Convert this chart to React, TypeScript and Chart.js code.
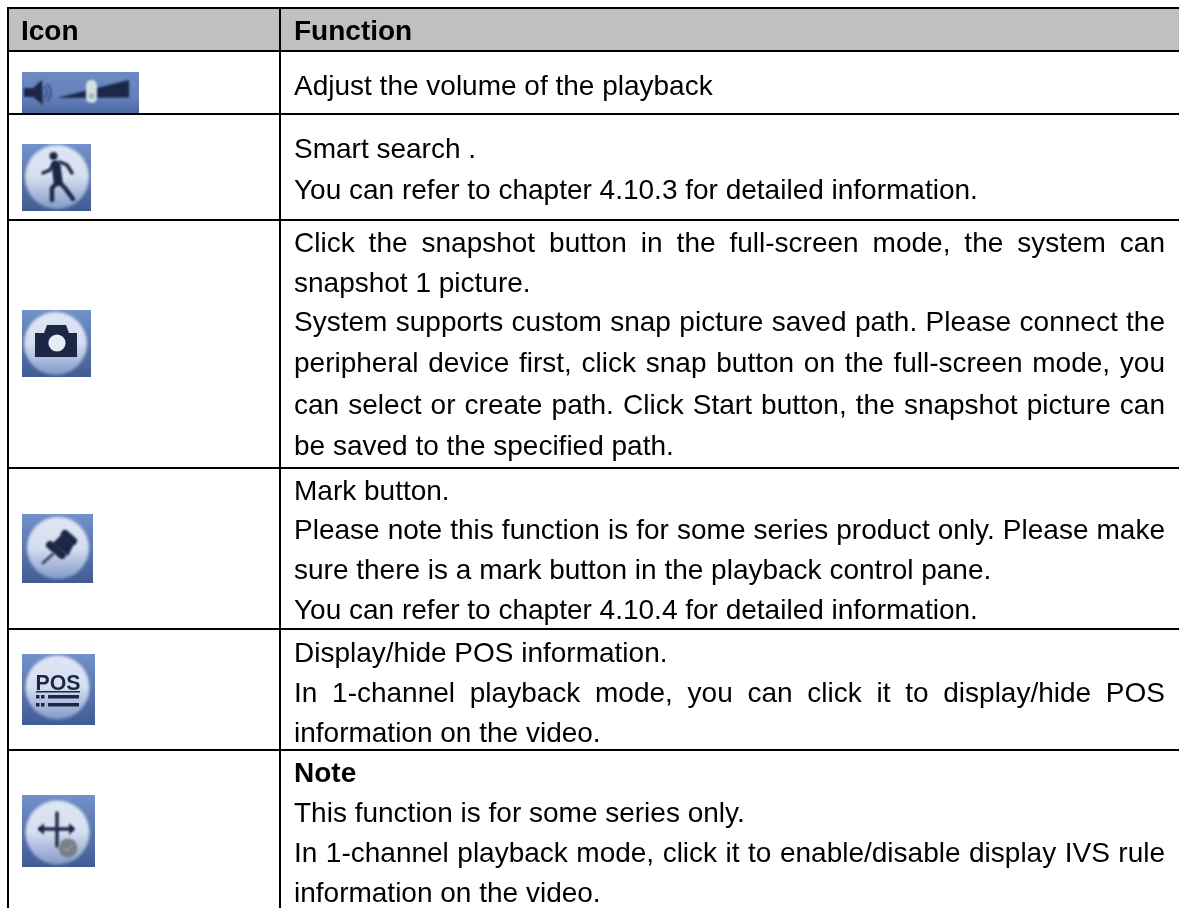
import React, { useEffect, useRef } from "react";
import { Chart, registerables } from "chart.js";

Chart.register(...registerables);

const headers = ["Icon", "Function"];
const iconNames = ["volume", "walker", "camera", "pin", "pos", "ivs"];
const cellLines = [
  "Adjust the volume of the playback",
  "Smart search .",
  "You can refer to chapter 4.10.3 for detailed information.",
  "Click the snapshot button in the full-screen mode, the system can",
  "snapshot 1 picture.",
  "System supports custom snap picture saved path. Please connect the",
  "peripheral device first, click snap button on the full-screen mode, you",
  "can select or create path. Click Start button, the snapshot picture can",
  "be saved to the specified path.",
  "Mark button.",
  "Please note this function is for some series product only. Please make",
  "sure there is a mark button in the playback control pane.",
  "You can refer to chapter 4.10.4 for detailed information.",
  "Display/hide POS information.",
  "In 1-channel playback mode, you can click it to display/hide POS",
  "information on the video.",
  "Note",
  "This function is for some series only.",
  "In 1-channel playback mode, click it to enable/disable display IVS rule",
  "information on the video.",
];
const justifiedLines = [3, 5, 6, 7, 10, 14, 18];
const boldLines = [16];

// layout, in page pixels (the scales run 1:1 with the canvas)
const W = 1179;
const H = 908;
const columnRules = [8, 280];
const rowRules = [8, 51, 114, 220, 468, 629, 750];
const lineBaselines = [95, 158, 199, 252, 292, 331, 372, 414, 455, 500, 539, 579, 619, 662, 702, 742, 782, 822, 862, 902];
const textLeft = 294;
const textRight = 1165;
const font = '"Liberation Sans", Arial, sans-serif';
const ink = "#1b2745";

function base(ctx: CanvasRenderingContext2D, x: number, y: number, w: number, h: number, cx: number, cy: number, r: number) {
  const g = ctx.createLinearGradient(0, y, 0, y + h);
  g.addColorStop(0, "#7391ca");
  g.addColorStop(1, "#415c92");
  ctx.fillStyle = g;
  ctx.fillRect(x, y, w, h);
  const c = ctx.createLinearGradient(0, cy - r, 0, cy + r);
  c.addColorStop(0, "#dfe6f4");
  c.addColorStop(0.5, "#d5def0");
  c.addColorStop(1, "#8299c8");
  ctx.save();
  ctx.beginPath();
  ctx.rect(x, y, w, h);
  ctx.clip();
  ctx.filter = "blur(1.4px)";
  ctx.fillStyle = c;
  ctx.beginPath();
  ctx.arc(cx, cy, r, 0, Math.PI * 2);
  ctx.fill();
  ctx.restore();
}

function poly(ctx: CanvasRenderingContext2D, pts: number[][]) {
  ctx.beginPath();
  pts.forEach(([a, b], i) => (i ? ctx.lineTo(a, b) : ctx.moveTo(a, b)));
  ctx.closePath();
  ctx.fill();
}

function stroke(ctx: CanvasRenderingContext2D, width: number, pts: number[][]) {
  ctx.lineWidth = width;
  ctx.lineJoin = "round";
  ctx.lineCap = "round";
  ctx.beginPath();
  pts.forEach(([a, b], i) => (i ? ctx.lineTo(a, b) : ctx.moveTo(a, b)));
  ctx.stroke();
}

const painters: Record<string, (ctx: CanvasRenderingContext2D) => void> = {
  volume(ctx) {
    const g = ctx.createLinearGradient(0, 72, 0, 113);
    g.addColorStop(0, "#6e8ac4");
    g.addColorStop(0.65, "#6380bb");
    g.addColorStop(1, "#4c68a2");
    ctx.fillStyle = g;
    ctx.fillRect(22, 72, 117, 41);
    ctx.save();
    ctx.filter = "blur(1px)";
    ctx.fillStyle = "#1b2745";
    poly(ctx, [[24, 88], [33, 88], [42, 80], [43, 105], [33, 97], [24, 97]]);
    ctx.strokeStyle = "#34466f";
    ctx.lineWidth = 1.6;
    ctx.beginPath();
    ctx.arc(40, 92.5, 7, -1, 1);
    ctx.stroke();
    ctx.beginPath();
    ctx.arc(40, 92.5, 11, -0.9, 0.9);
    ctx.stroke();
    ctx.fillStyle = "#1b2745";
    poly(ctx, [[57, 98], [129, 80], [129, 97.5]]);
    ctx.fillStyle = "#d3dfe2";
    ctx.beginPath();
    ctx.roundRect(86, 80, 11, 23, 5);
    ctx.fill();
    ctx.fillStyle = "#a3b8bc";
    ctx.beginPath();
    ctx.arc(91.5, 96, 3, 0, Math.PI * 2);
    ctx.fill();
    ctx.restore();
  },
  walker(ctx) {
    base(ctx, 22, 144, 69, 67, 57, 177, 32);
    ctx.save();
    ctx.filter = "blur(0.8px)";
    ctx.fillStyle = ink;
    ctx.strokeStyle = ink;
    ctx.beginPath();
    ctx.arc(53.5, 156, 4, 0, Math.PI * 2);
    ctx.fill();
    stroke(ctx, 9, [[56, 165], [58, 181]]);
    stroke(ctx, 3.4, [[54, 163], [50, 170], [43, 173]]);
    stroke(ctx, 3.4, [[60, 162], [67, 165], [72, 173]]);
    stroke(ctx, 4.4, [[57, 183], [52, 188], [52, 200]]);
    stroke(ctx, 4.4, [[60, 183], [65, 188], [73, 199]]);
    ctx.restore();
  },
  camera(ctx) {
    base(ctx, 22, 310, 69, 67, 55.5, 343.5, 31.5);
    ctx.save();
    ctx.filter = "blur(0.5px)";
    ctx.fillStyle = ink;
    poly(ctx, [[35, 333], [44, 333], [47, 325], [66, 325], [69, 333], [77, 333], [77, 357], [35, 357]]);
    ctx.fillStyle = "#e6edf8";
    ctx.beginPath();
    ctx.arc(57, 343, 8.6, 0, Math.PI * 2);
    ctx.fill();
    ctx.restore();
  },
  pin(ctx) {
    base(ctx, 22, 514, 71, 69, 58, 548, 31);
    ctx.save();
    ctx.filter = "blur(1px)";
    ctx.fillStyle = ink;
    ctx.strokeStyle = ink;
    stroke(ctx, 8, [[65, 534], [73, 541]]);
    poly(ctx, [[62, 534], [74, 544], [68, 556], [52, 544]]);
    stroke(ctx, 8, [[50, 545], [62, 555]]);
    ctx.strokeStyle = "#3b4560";
    stroke(ctx, 3, [[43, 563], [53, 554]]);
    ctx.restore();
  },
  pos(ctx) {
    base(ctx, 22, 654, 73, 71, 57.5, 687.5, 32);
    ctx.save();
    ctx.filter = "blur(0.5px)";
    ctx.fillStyle = ink;
    ctx.font = `bold 22px ${font}`;
    ctx.textBaseline = "alphabetic";
    ctx.fillText("POS", 35.5, 690, 45);
    ctx.fillRect(36, 691, 44, 1.5);
    [695, 703].forEach((y) => {
      ctx.fillRect(36, y, 3.5, 3.5);
      ctx.fillRect(41, y, 3.5, 3.5);
      ctx.fillRect(48, y, 31, 3.5);
    });
    ctx.restore();
  },
  ivs(ctx) {
    base(ctx, 22, 795, 73, 72, 57.5, 832.5, 32);
    ctx.save();
    ctx.filter = "blur(0.8px)";
    ctx.fillStyle = ink;
    ctx.strokeStyle = ink;
    stroke(ctx, 3.4, [[57, 813], [57, 846]]);
    stroke(ctx, 3.4, [[40, 829], [72, 829]]);
    poly(ctx, [[38, 829], [44, 823], [44, 835]]);
    poly(ctx, [[75, 829], [69, 823], [69, 835]]);
    ctx.fillStyle = "#7a7f88";
    ctx.beginPath();
    ctx.arc(68, 848, 9.5, 0, Math.PI * 2);
    ctx.fill();
    ctx.strokeStyle = "#969aa2";
    stroke(ctx, 1.4, [[64, 848], [67, 851], [72, 845]]);
    ctx.restore();
  },
};

const tablePlugin = {
  id: "tablePlugin",
  beforeDraw(chart: any) {
    const ctx: CanvasRenderingContext2D = chart.ctx;
    const { x, y } = chart.scales;
    ctx.save();
    ctx.fillStyle = "#ffffff";
    ctx.fillRect(0, 0, W, H);
    ctx.fillStyle = "#c0c0c0";
    const top = y.getPixelForValue(rowRules[0]);
    ctx.fillRect(x.getPixelForValue(columnRules[0]), top, W, y.getPixelForValue(rowRules[1]) - top);
    ctx.restore();
  },
  afterDraw(chart: any) {
    const ctx: CanvasRenderingContext2D = chart.ctx;
    const { x, y } = chart.scales;
    ctx.save();
    iconNames.forEach((name) => painters[name](ctx));
    ctx.fillStyle = "#000000";
    ctx.textBaseline = "alphabetic";
    ctx.textAlign = "left";
    ctx.font = `bold 28px ${font}`;
    ctx.fillText(headers[0], x.getPixelForValue(21), y.getPixelForValue(40));
    ctx.fillText(headers[1], x.getPixelForValue(textLeft), y.getPixelForValue(40));
    cellLines.forEach((line, i) => {
      ctx.font = `${boldLines.includes(i) ? "bold " : ""}28px ${font}`;
      const py = y.getPixelForValue(lineBaselines[i]);
      const left = x.getPixelForValue(textLeft);
      if (!justifiedLines.includes(i)) {
        ctx.fillText(line, left, py);
        return;
      }
      const words = line.split(" ");
      const total = words.reduce((s, w) => s + ctx.measureText(w).width, 0);
      const gap = (x.getPixelForValue(textRight) - left - total) / (words.length - 1);
      let cursor = left;
      words.forEach((w) => {
        ctx.fillText(w, cursor, py);
        cursor += ctx.measureText(w).width + gap;
      });
    });
    ctx.restore();
  },
};

export default function App() {
  const ref = useRef<HTMLCanvasElement>(null);
  useEffect(() => {
    document.body.style.margin = "0";
    const setTicks = (values: number[]) => (scale: any) => {
      scale.ticks = values.map((value) => ({ value }));
    };
    const rule = { color: "#000000", lineWidth: 2, drawTicks: false };
    const chart = new Chart(ref.current as HTMLCanvasElement, {
      type: "scatter",
      data: { datasets: [] },
      plugins: [tablePlugin],
      options: {
        animation: false,
        responsive: false,
        events: [],
        layout: { padding: { left: 7, top: 7, right: 0, bottom: 0 } },
        plugins: { legend: { display: false }, title: { display: false }, tooltip: { enabled: false } },
        scales: {
          x: {
            type: "linear",
            min: 7,
            max: W,
            afterBuildTicks: setTicks(columnRules),
            ticks: { display: false },
            border: { display: false },
            grid: rule,
          },
          y: {
            type: "linear",
            reverse: true,
            min: 7,
            max: H,
            afterBuildTicks: setTicks(rowRules),
            ticks: { display: false },
            border: { display: false },
            grid: rule,
          },
        },
      },
    } as any);
    return () => chart.destroy();
  }, []);
  return (
    <div style={{ position: "absolute", left: 0, top: 0, width: W, height: H, overflow: "hidden", background: "#fff" }}>
      <canvas ref={ref} width={W} height={H} style={{ display: "block", width: W, height: H }} />
    </div>
  );
}
